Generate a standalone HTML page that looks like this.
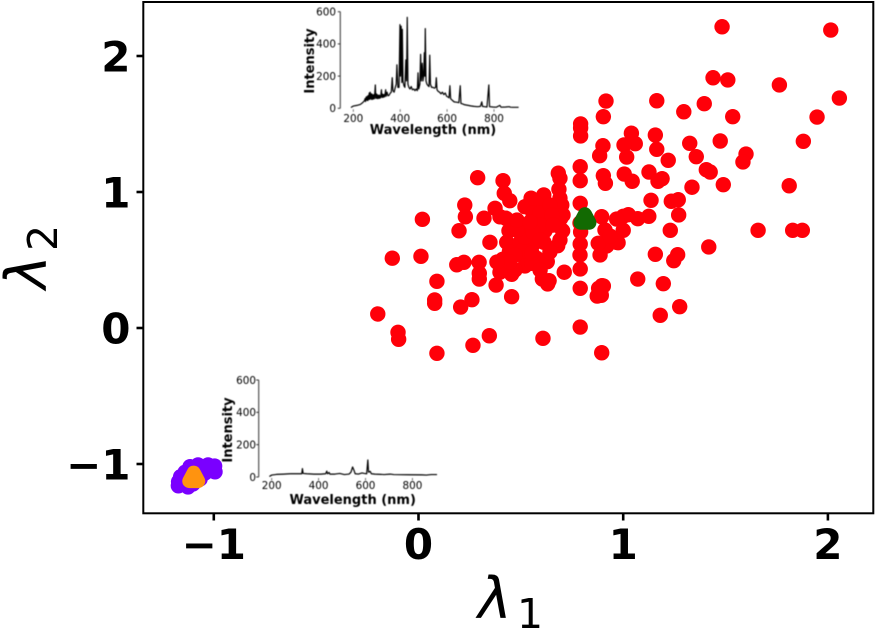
<!DOCTYPE html>
<html lang="en">
<head>
<meta charset="utf-8">
<title>Lambda scatter chart with spectra insets</title>
<style>
html,body{margin:0;padding:0;background:#fff;width:876px;height:630px;overflow:hidden}
svg{display:block}
text{font-family:"DejaVu Sans","Liberation Sans",sans-serif;fill:#000}
.tick-main{font-size:42px;font-weight:bold}
.inset-tick{font-size:10.4px}
.inset-title{font-size:13px;font-weight:bold}
.math{font-size:57px;font-style:italic}
.sub{font-size:41px}
</style>
</head>
<body>
<svg id="chart" xmlns="http://www.w3.org/2000/svg" width="876" height="630" viewBox="0 0 876 630">
  <defs>
    <filter id="soft" x="-5%" y="-5%" width="110%" height="110%"><feGaussianBlur stdDeviation="0.4"/></filter>
  </defs>
  <rect x="0" y="0" width="876" height="630" fill="#fff"/>
  <g id="series"></g>
  <g id="inset-top" filter="url(#soft)"></g>
  <g id="inset-bottom" filter="url(#soft)"></g>
  <rect x="143.3" y="2" width="730" height="511.3" fill="none" stroke="#000" stroke-width="2"/>
  <g id="axes"></g>
  <text class="math" x="478" y="618">λ</text>
  <text class="sub" x="517" y="628">1</text>
  <text class="math" transform="translate(46,289) rotate(-90)" x="0" y="0">λ</text>
  <text class="sub" transform="translate(57,251) rotate(-90)" x="0" y="0">2</text>
</svg>
<script>
const redLambda1 = [1.483,2.014,1.439,1.511,1.763,2.056,0.916,1.164,1.396,1.296,1.535,1.947,0.903,1.040,1.157,1.059,1.004,0.901,1.325,1.474,1.880,1.164,1.600,1.585,1.357,1.220,1.017,0.885,1.126,1.190,1.170,1.005,1.044,0.903,0.913,1.406,1.425,1.336,1.489,1.811,1.136,1.235,1.269,1.271,1.125,1.071,1.025,1.000,0.968,0.895,1.000,0.911,1.230,1.659,1.828,1.875,0.975,0.919,0.887,1.418,1.157,1.266,1.247,1.071,1.196,0.903,0.893,1.276,1.181,0.289,0.413,0.683,0.691,0.790,0.790,0.419,0.446,0.686,0.612,0.550,0.520,0.577,0.559,0.608,0.691,0.700,0.695,0.790,0.226,0.229,0.374,0.320,0.398,0.427,0.019,0.198,0.442,0.524,0.618,0.704,0.789,0.349,0.431,0.496,0.561,0.613,0.680,0.790,0.878,0.968,0.444,0.512,0.789,-0.128,0.012,0.187,0.222,0.296,0.411,0.520,0.577,0.520,0.553,0.629,0.790,0.712,0.297,0.398,0.455,0.297,0.379,0.090,0.605,0.638,0.631,0.790,0.896,0.880,0.873,0.890,0.455,0.079,0.079,0.261,0.206,-0.199,-0.100,-0.097,0.346,0.266,0.608,0.790,0.090,0.895,0.792,0.792,0.792,0.792,0.706,0.471,0.554,0.594,0.520,0.642,0.652,0.594,0.657,0.559,0.594,0.642,0.481,0.481,0.936,0.691,0.545,0.471,0.447,0.594,0.383];
const redLambda2 = [2.215,2.191,1.840,1.824,1.787,1.691,1.669,1.671,1.649,1.590,1.554,1.551,1.554,1.432,1.419,1.355,1.346,1.340,1.358,1.375,1.373,1.314,1.279,1.221,1.260,1.233,1.257,1.267,1.147,1.098,1.079,1.132,1.079,1.120,1.064,1.164,1.147,1.035,1.054,1.046,0.939,0.932,0.943,0.831,0.821,0.804,0.833,0.821,0.801,0.818,0.718,0.721,0.718,0.718,0.718,0.718,0.627,0.603,0.537,0.596,0.542,0.539,0.495,0.360,0.326,0.309,0.240,0.157,0.093,1.105,1.083,1.138,1.101,1.186,1.083,0.990,0.936,1.020,0.978,0.954,0.892,0.917,0.846,0.831,0.954,0.904,0.807,0.917,0.904,0.818,0.880,0.807,0.818,0.807,0.799,0.715,0.715,0.715,0.715,0.715,0.772,0.630,0.630,0.630,0.618,0.630,0.605,0.618,0.623,0.630,0.561,0.574,0.537,0.513,0.527,0.465,0.483,0.483,0.505,0.513,0.513,0.456,0.476,0.488,0.434,0.410,0.402,0.410,0.395,0.360,0.316,0.343,0.360,0.348,0.324,0.292,0.311,0.292,0.235,0.255,0.230,0.206,0.182,0.208,0.154,0.103,-0.032,-0.083,-0.057,-0.127,-0.076,0.007,-0.186,-0.182,1.500,1.471,1.412,0.706,0.831,0.537,0.551,0.846,0.669,0.904,0.831,0.757,0.757,0.706,0.647,0.559,0.721,0.794,0.676,0.647,0.779,0.426,0.485,0.426,0.485];
const purpleLambda1 = [-1.173,-1.162,-1.116,-1.077,-1.028,-0.996,-0.994,-1.102,-1.067,-1.141,-1.043,-1.126,-1.025,-1.110,-1.075,-1.140,-1.050,-1.172,-1.155];
const purpleLambda2 = [-1.160,-1.093,-1.020,-1.007,-1.007,-1.015,-1.057,-1.147,-1.110,-1.118,-1.066,-1.169,-1.050,-1.080,-1.050,-1.060,-1.020,-1.130,-1.130];
const greenCentroid = [0.813, 0.80];
const orangeCentroid = [-1.098, -1.10];
const xTickValues = [-1, 0, 1, 2];
const yTickValues = [-1, 0, 1, 2];
const xTickLabels = ["\u22121", "0", "1", "2"];
const yTickLabels = ["\u22121", "0", "1", "2"];
const insetXTicks = [200, 400, 600, 800];
const insetYTicks = [0, 200, 400, 600];
const highWavelengths = [190,200,215,230,240,248,250,252,255,258,260,262,264,266,268,270,272,274,276,278,280,282,284,286,288,290,294,296,298,300,302,304,306,308,310,312,314,316,320,322,324,326,328,330,332,334,338,340,344,348,352,358,362,366,369,374,379,383,386,390,395,399,401,404,407,409,412,416,420,424,427,430,433,437,442,447,452,458,463,468,473,476,479,484,487,490,494,497,500,503,505,507,510,514,519,523,526,529,534,540,546,551,554,557,562,568,574,580,586,592,598,604,608,612,615,622,630,640,650,656,659,665,675,690,700,715,730,742,748,751,760,770,778,781,795,810,825,830,850,865,870,880,905];
const highIntensity = [5,14,18,24,35,48,60,42,70,50,75,48,80,55,95,55,100,60,90,55,88,56,82,58,85,60,145,62,90,62,85,60,80,62,82,62,78,65,115,68,88,68,85,70,85,72,115,75,100,78,80,95,100,190,110,100,130,150,270,130,130,520,200,510,160,490,170,140,130,300,170,565,150,130,120,135,115,120,110,120,110,220,120,150,335,170,280,170,200,345,200,495,170,150,140,135,330,150,130,130,125,130,190,115,105,100,90,100,85,95,75,70,65,140,60,50,40,38,35,140,30,28,22,18,15,12,10,12,40,12,10,8,145,10,8,7,18,7,8,10,7,6,6];
const lowWavelengths = [190,200,220,250,280,310,328,331,334,350,380,410,430,435,438,445,448,470,490,510,530,538,545,550,556,570,585,595,605,610,613,620,625,640,680,705,720,780,840,860,880,905];
const lowIntensity = [3,12,16,18,20,20,20,52,22,20,18,18,20,36,20,28,18,18,22,15,18,30,62,45,20,18,25,22,20,105,30,35,20,18,15,18,15,14,13,12,15,15];

const NS = "http://www.w3.org/2000/svg";
function xScale(v){ return 418.5 + v * 204.7; }
function yScale(v){ return 328 - v * 136; }
function make(tag, parent){ const el = document.createElementNS(NS, tag); parent.appendChild(el); return el; }

const series = document.getElementById("series");
redLambda1.forEach(function(v, i){
  const c = make("circle", series);
  c.setAttribute("cx", xScale(v));
  c.setAttribute("cy", yScale(redLambda2[i]));
  c.setAttribute("r", 7.7);
  c.setAttribute("fill", "#ff0009");
  
  
});
purpleLambda1.forEach(function(v, i){
  const c = make("circle", series);
  c.setAttribute("cx", xScale(v));
  c.setAttribute("cy", yScale(purpleLambda2[i]));
  c.setAttribute("r", 7.7);
  c.setAttribute("fill", "#7a00ff");
  
  
});
function triangle(center, color, edge){
  const cx = xScale(center[0]), cy = yScale(center[1]);
  const p = make("polygon", series);
  p.setAttribute("points", (cx) + "," + (cy - 5) + " " + (cx + 4.5) + "," + (cy + 3.5) + " " + (cx - 4.5) + "," + (cy + 3.5));
  p.setAttribute("fill", color);
  p.setAttribute("stroke", edge);
  p.setAttribute("stroke-width", 14);
  p.setAttribute("stroke-linejoin", "round");
  return p;
}
const greenMarker = triangle(greenCentroid, "#126a02", "#126a02");


const orangeMarker = triangle(orangeCentroid, "#ff930f", "#ff930f");



const axes = document.getElementById("axes");
xTickValues.forEach(function(v, i){
  const x = xScale(v);
  const t = make("line", axes);
  t.setAttribute("x1", x); t.setAttribute("x2", x);
  t.setAttribute("y1", 513); t.setAttribute("y2", 520.5);
  t.setAttribute("stroke", "#000"); t.setAttribute("stroke-width", 2.6);
  
  
  const l = make("text", axes);
  l.setAttribute("x", x); l.setAttribute("y", 559);
  l.setAttribute("text-anchor", "middle");
  l.setAttribute("class", "tick-main");
  l.textContent = xTickLabels[i];
  
  
});
yTickValues.forEach(function(v, i){
  const y = yScale(v);
  const t = make("line", axes);
  t.setAttribute("x1", 136.5); t.setAttribute("x2", 143.5);
  t.setAttribute("y1", y); t.setAttribute("y2", y);
  t.setAttribute("stroke", "#000"); t.setAttribute("stroke-width", 2.6);
  
  
  const l = make("text", axes);
  l.setAttribute("x", 130.5); l.setAttribute("y", y + 15.5);
  l.setAttribute("text-anchor", "end");
  l.setAttribute("class", "tick-main");
  l.textContent = yTickLabels[i];
  
  
});

function drawInset(group, wavelengths, intensity, x200, y0, yTop, xEnd, labelX, titleX, titleCy, xLabelY, xTitleY, xTitleCx){
  const ix = function(w){ return x200 + (w - 200) * 0.2345; };
  const iy = function(v){ return y0 - v * (y0 - yTop) / 600; };
  const spine = make("line", group);
  spine.setAttribute("x1", x200 - 13); spine.setAttribute("x2", x200 - 13);
  spine.setAttribute("y1", yTop); spine.setAttribute("y2", y0);
  spine.setAttribute("stroke", "#333"); spine.setAttribute("stroke-width", 1);
  
  
  insetYTicks.forEach(function(v){
    const t = make("line", group);
    t.setAttribute("x1", x200 - 15.5); t.setAttribute("x2", x200 - 13);
    t.setAttribute("y1", iy(v)); t.setAttribute("y2", iy(v));
    t.setAttribute("stroke", "#333"); t.setAttribute("stroke-width", 1);
    
    
    const l = make("text", group);
    l.setAttribute("x", labelX); l.setAttribute("y", iy(v) + 3.8);
    l.setAttribute("text-anchor", "end");
    l.setAttribute("class", "inset-tick");
    l.textContent = String(v);
    
    
  });
  insetXTicks.forEach(function(v){
    const t = make("line", group);
    t.setAttribute("x1", ix(v)); t.setAttribute("x2", ix(v));
    t.setAttribute("y1", y0 + 1); t.setAttribute("y2", y0 + 3.5);
    t.setAttribute("stroke", "#555"); t.setAttribute("stroke-width", 0.8);
    
    
    const l = make("text", group);
    l.setAttribute("x", ix(v)); l.setAttribute("y", xLabelY);
    l.setAttribute("text-anchor", "middle");
    l.setAttribute("class", "inset-tick");
    l.textContent = String(v);
    
    
  });
  const line = make("polyline", group);
  line.setAttribute("points", wavelengths.map(function(w, i){ return ix(w).toFixed(2) + "," + iy(intensity[i]).toFixed(2); }).join(" "));
  line.setAttribute("fill", "none");
  line.setAttribute("stroke", "#000");
  line.setAttribute("stroke-width", 1.2);
  line.setAttribute("stroke-linejoin", "round");
  
  
  const xt = make("text", group);
  xt.setAttribute("x", xTitleCx); xt.setAttribute("y", xTitleY);
  xt.setAttribute("text-anchor", "middle");
  xt.setAttribute("class", "inset-title");
  xt.textContent = "Wavelength (nm)";
  
  
  const yt = make("text", group);
  yt.setAttribute("transform", "translate(" + titleX + "," + titleCy + ") rotate(-90)");
  yt.setAttribute("text-anchor", "middle");
  yt.setAttribute("class", "inset-title");
  yt.textContent = "Intensity";
  
  
}
drawInset(document.getElementById("inset-top"), highWavelengths, highIntensity, 353.3, 108.3, 11.7, 518, 336, 314, 61, 122, 134, 433);
drawInset(document.getElementById("inset-bottom"), lowWavelengths, lowIntensity, 271.7, 477, 380, 437, 256, 232, 430, 489, 504, 352.7);
</script>
</body>
</html>
